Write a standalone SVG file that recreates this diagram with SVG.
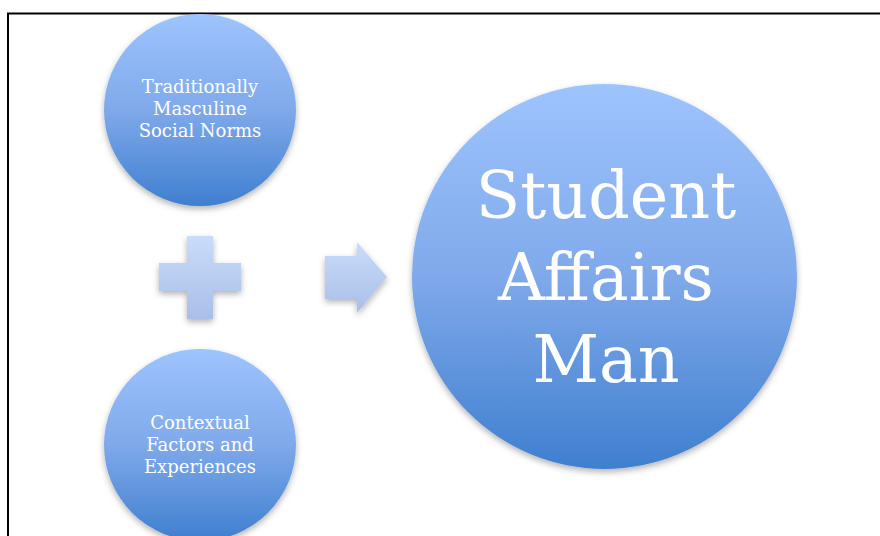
<svg xmlns="http://www.w3.org/2000/svg" width="880" height="536" viewBox="0 0 880 536">
<style>
.circ{filter:url(#sh)}
.lbl{font-family:"DejaVu Serif","Liberation Serif",serif;fill:#ffffff;text-anchor:middle}
.small{font-size:18px}
.big{font-size:65px}
</style>
<defs>
<linearGradient id="gc" x1="0" y1="0" x2="0" y2="1">
<stop offset="0" stop-color="#9ec4fe"/>
<stop offset="0.5" stop-color="#7fa9ea"/>
<stop offset="1" stop-color="#3f7fcf"/>
</linearGradient>
<linearGradient id="gs" x1="0" y1="0" x2="0" y2="1">
<stop offset="0" stop-color="#cadcfb"/>
<stop offset="1" stop-color="#a9bfe7"/>
</linearGradient>
<filter id="sh" x="-20%" y="-20%" width="140%" height="150%">
<feDropShadow dx="0" dy="3" stdDeviation="3" flood-color="#000" flood-opacity="0.3"/>
</filter>
</defs>
<rect width="880" height="536" fill="#ffffff"/>
<path d="M8 536 V13.5 H880" fill="none" stroke="#000" stroke-width="2"/>
<g id="connectors">
<path id="plus" class="circ" d="M187 236 H213 V263 H241 V291 H213 V319 H187 V291 H159 V263 H187 Z" fill="url(#gs)"/>
<path id="arrow" class="circ" d="M325 256 H357 V242 L387 277 L357 313 V299 H325 Z" fill="url(#gs)"/>
</g>
<g id="node-norms">
<circle class="circ" cx="200" cy="110" r="96" fill="url(#gc)"/>
<text class="lbl small" x="200" y="93">Traditionally</text>
<text class="lbl small" x="200" y="115">Masculine</text>
<text class="lbl small" x="200" y="137">Social Norms</text>
</g>
<g id="node-context">
<circle class="circ" cx="200" cy="445" r="96" fill="url(#gc)"/>
<text class="lbl small" x="200" y="429">Contextual</text>
<text class="lbl small" x="200" y="451">Factors and</text>
<text class="lbl small" x="200" y="473">Experiences</text>
</g>
<g id="node-man">
<circle class="circ" cx="604.5" cy="276.5" r="192.5" fill="url(#gc)"/>
<text class="lbl big" x="606" y="218">Student</text>
<text class="lbl big" x="606" y="300">Affairs</text>
<text class="lbl big" x="606" y="382">Man</text>
</g>
</svg>
